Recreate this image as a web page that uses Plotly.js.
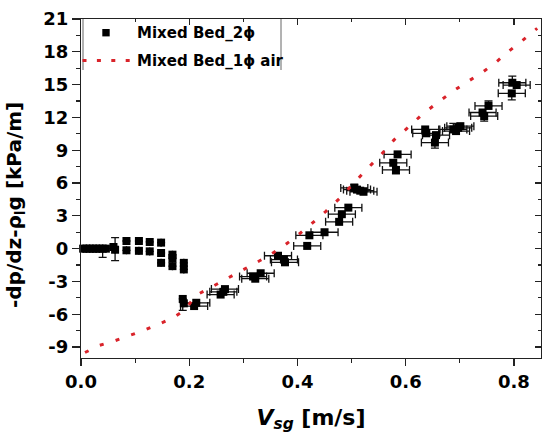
<!DOCTYPE html>
<html>
<head>
<meta charset="utf-8">
<script src="https://cdn.plot.ly/plotly-3.0.1.min.js"></script>
<style>
  html, body { margin: 0; padding: 0; background: #fff; }
  #chart { width: 544px; height: 435px; }
</style>
</head>
<body>
<div id="chart"></div>
<script>
// ---------------- data ----------------
const seriesNames = ['Mixed Bed_2\u03d5', 'Mixed Bed_1\u03d5 air'];

// two-phase mixed bed measurements
const xTwoPhase = [0.004, 0.010, 0.016, 0.022, 0.028, 0.034, 0.040, 0.046,
  0.060, 0.063, 0.084, 0.084, 0.107, 0.107, 0.127, 0.127,
  0.148, 0.148, 0.148, 0.169, 0.169, 0.169, 0.190, 0.190,
  0.188, 0.190, 0.209, 0.213, 0.258, 0.263, 0.266,
  0.318, 0.322, 0.332, 0.364, 0.375, 0.377,
  0.418, 0.422, 0.450, 0.477, 0.482, 0.494,
  0.505, 0.510, 0.516, 0.522, 0.577, 0.582, 0.585,
  0.636, 0.638, 0.654, 0.656, 0.688, 0.693, 0.697, 0.701,
  0.742, 0.745, 0.753, 0.797, 0.805, 0.796];
const yTwoPhase = [0.00, 0.00, 0.00, 0.00, 0.00, 0.00, 0.00, 0.00,
  0.15, -0.10, 0.70, -0.15, 0.70, -0.20, 0.61, -0.25,
  0.55, -0.40, -1.30, -0.55, -0.90, -1.60, -1.30, -1.90,
  -4.60, -5.00, -5.25, -4.95, -4.20, -3.95, -3.70,
  -2.55, -2.75, -2.25, -0.65, -1.00, -1.25,
  0.25, 1.22, 1.50, 2.45, 3.15, 3.75,
  5.55, 5.40, 5.30, 5.20, 7.85, 7.20, 8.62,
  10.90, 10.55, 9.70, 10.38, 10.90, 10.75, 11.05, 11.20,
  12.45, 12.12, 13.05, 15.17, 14.96, 14.20];
const exTwoPhase = [0, 0, 0, 0, 0, 0, 0, 0,
  0, 0, 0, 0, 0, 0, 0, 0,
  0, 0, 0, 0, 0, 0, 0, 0,
  0, 0, 0.025, 0.025, 0.025, 0.025, 0.025,
  0.025, 0.025, 0.025, 0.025, 0.025, 0.025,
  0.025, 0.025, 0.025, 0.025, 0.025, 0.025,
  0.025, 0.025, 0.025, 0.025, 0.025, 0.025, 0.025,
  0.025, 0.025, 0.025, 0.025, 0.025, 0.025, 0.025, 0.025,
  0.025, 0.025, 0.025, 0.025, 0.025, 0.025];
const eyPlus = [0, 0, 0, 0, 0, 0, 0, 0,
  0, 1.10, 0, 0, 0, 0, 0, 0,
  0, 0, 0, 0, 0, 0, 0, 0,
  0, 0, 0, 0, 0, 0, 0,
  0, 0, 0, 0, 0, 0,
  0, 0, 0, 0, 0, 0,
  0.35, 0, 0, 0, 0, 0, 0,
  0, 0, 0, 0, 0.55, 0, 0, 0,
  0, 0, 0.45, 0.60, 0, 0];
const eyMinus = [0, 0, 0, 0, 0, 0, 0.80, 0,
  0, 1.00, 0, 0, 0, 0, 0, 0,
  0, 0, 0, 0, 0, 0, 0, 0,
  1.05, 0, 0, 0, 0, 0, 0,
  0, 0, 0, 0, 0, 0,
  0, 0, 0, 0, 0, 0,
  0, 0, 0, 0, 0, 0.35, 0,
  0.40, 0, 0.50, 0, 0, 0, 0, 0,
  0, 0.45, 0, 0, 0, 0.60];

// single-phase (air) curve
const xAir = [0.0074, 0.034, 0.061, 0.088, 0.115, 0.141, 0.168, 0.193, 0.211, 0.238,
  0.264, 0.291, 0.317, 0.345, 0.371, 0.399, 0.425, 0.452, 0.478, 0.503,
  0.528, 0.554, 0.578, 0.605, 0.631, 0.658, 0.685, 0.711, 0.739, 0.765,
  0.789, 0.816, 0.843];
const yAir = [-9.50, -8.85, -8.45, -8.00, -7.50, -6.96, -6.38, -5.59, -4.30, -3.60,
  -2.90, -2.23, -1.50, -0.70, 0.12, 1.16, 2.23, 3.39, 4.60, 5.95,
  7.26, 8.57, 9.92, 11.11, 12.30, 13.31, 14.32, 15.17, 16.03, 16.97,
  18.00, 19.05, 20.15];

// axes
const xRange = [0, 0.85];
const yRange = [-10, 21];
const xTickVals = [0, 0.2, 0.4, 0.6, 0.8];
const xTickText = ['0.0', '0.2', '0.4', '0.6', '0.8'];
const yTickVals = [-9, -6, -3, 0, 3, 6, 9, 12, 15, 18, 21];
const yTickText = ['-9', '-6', '-3', '0', '3', '6', '9', '12', '15', '18', '21'];
const xTitle = '<i>V</i><sub><i>sg</i></sub> [m/s]';
const yTitle = '-dp/dz-\u03c1<sub>l</sub>g [kPa/m]';

// ---------------- layout helpers ----------------
const W = 544, H = 435;
const M = { l: 81, r: 3, t: 19, b: 77 };
const PW = W - M.l - M.r, PH = H - M.t - M.b;
const px = v => (v - M.l) / PW;          // pixel x -> paper x
const py = v => (H - M.b - v) / PH;      // pixel y -> paper y

const FONT = 'DejaVu Sans, Verdana, Arial, sans-serif';
const AX = '#222';
const RED = '#d9232a';

const traces = [
  {
    type: 'scatter', mode: 'markers', name: seriesNames[0],
    x: xTwoPhase, y: yTwoPhase,
    marker: { symbol: 'square', size: 8, color: '#000', line: { width: 0 } },
    error_x: { type: 'data', array: exTwoPhase, visible: true, color: '#111', thickness: 1.3, width: 4 },
    error_y: { type: 'data', symmetric: false, array: eyPlus, arrayminus: eyMinus, visible: true, color: '#111', thickness: 1.3, width: 4 },
    showlegend: false, cliponaxis: false
  },
  {
    type: 'scatter', mode: 'lines', name: seriesNames[1],
    x: xAir, y: yAir,
    line: { color: RED, width: 3, dash: '4px,12.5px' },
    showlegend: false
  },
  { type: 'scatter', x: [], y: [], xaxis: 'x2', yaxis: 'y2', showlegend: false, hoverinfo: 'skip' }
];

const tickFont = { family: FONT, size: 18, color: '#000', weight: 'bold' };

const layout = {
  width: W, height: H,
  margin: { l: M.l, r: M.r, t: M.t, b: M.b, pad: 0 },
  paper_bgcolor: '#fff', plot_bgcolor: '#fff',
  showlegend: false,
  font: { family: FONT, color: '#000' },
  xaxis: {
    range: xRange, tickmode: 'array', tickvals: xTickVals, ticktext: xTickText,
    ticks: 'outside', ticklen: 7, tickwidth: 1.2, tickcolor: AX,
    showline: true, linecolor: AX, linewidth: 1.2, showgrid: false, zeroline: false,
    tickfont: tickFont,
    minor: { tickmode: 'linear', tick0: 0, dtick: 0.1, ticks: 'outside', ticklen: 4, tickwidth: 1.2, tickcolor: AX, showgrid: false },
    title: { text: xTitle, font: { family: FONT, size: 22, color: '#000', weight: 'bold' }, standoff: 18 }
  },
  yaxis: {
    range: yRange, tickmode: 'array', tickvals: yTickVals, ticktext: yTickText,
    ticks: 'outside', ticklen: 8, tickwidth: 1.2, tickcolor: AX,
    showline: true, linecolor: AX, linewidth: 1.2, showgrid: false, zeroline: false,
    tickfont: tickFont,
    minor: { tickmode: 'linear', tick0: 0, dtick: 1.5, ticks: 'outside', ticklen: 4, tickwidth: 1.2, tickcolor: AX, showgrid: false }
  },
  xaxis2: {
    overlaying: 'x', side: 'top', anchor: 'y', range: xRange,
    tickmode: 'array', tickvals: xTickVals, showticklabels: false,
    ticks: 'inside', ticklen: 6, tickwidth: 1.2, tickcolor: AX,
    showline: true, linecolor: AX, linewidth: 1.2, showgrid: false, zeroline: false,
    minor: { tickmode: 'linear', tick0: 0, dtick: 0.1, ticks: 'inside', ticklen: 3, tickwidth: 1.2, tickcolor: AX, showgrid: false }
  },
  yaxis2: {
    overlaying: 'y', side: 'right', anchor: 'x', range: yRange,
    tickmode: 'array', tickvals: yTickVals, showticklabels: false,
    ticks: 'inside', ticklen: 6, tickwidth: 1.2, tickcolor: AX,
    showline: true, linecolor: AX, linewidth: 1.2, showgrid: false, zeroline: false,
    minor: { tickmode: 'linear', tick0: 0, dtick: 1.5, ticks: 'inside', ticklen: 3, tickwidth: 1.2, tickcolor: AX, showgrid: false }
  },
  shapes: [
    // legend frame (side borders)
    { type: 'line', xref: 'paper', yref: 'paper', x0: px(83), x1: px(83), y0: py(19), y1: py(70), line: { color: '#666', width: 1 } },
    { type: 'line', xref: 'paper', yref: 'paper', x0: px(281), x1: px(281), y0: py(19), y1: py(70), line: { color: '#666', width: 1 } },
    // legend symbols
    { type: 'rect', xref: 'paper', yref: 'paper', x0: px(102.3), x1: px(109.7), y0: py(29), y1: py(36.4), fillcolor: '#000', line: { width: 0 } },
    { type: 'line', xref: 'paper', yref: 'paper', x0: px(82.5), x1: px(131), y0: py(60.5), y1: py(60.5), line: { color: RED, width: 3, dash: '4px,10.4px' } }
  ],
  annotations: [
    { xref: 'paper', yref: 'paper', x: px(135), y: py(33), xanchor: 'left', yanchor: 'middle', showarrow: false,
      text: seriesNames[0], font: { family: FONT, size: 15, color: '#000', weight: 'bold' } },
    { xref: 'paper', yref: 'paper', x: px(135), y: py(60.5), xanchor: 'left', yanchor: 'middle', showarrow: false,
      text: seriesNames[1], font: { family: FONT, size: 15, color: '#000', weight: 'bold' } },
    { xref: 'paper', yref: 'paper', x: px(15), y: py(205), xanchor: 'center', yanchor: 'middle', showarrow: false,
      textangle: -90, text: yTitle, font: { family: FONT, size: 20, color: '#000', weight: 'bold' } }
  ]
};

Plotly.newPlot('chart', traces, layout, { staticPlot: true, displayModeBar: false });
</script>
</body>
</html>
